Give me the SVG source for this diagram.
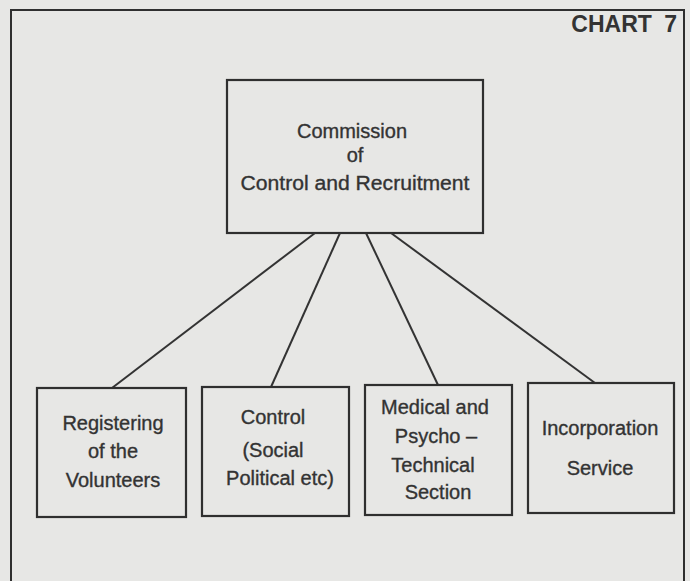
<svg xmlns="http://www.w3.org/2000/svg" width="690" height="581" viewBox="0 0 690 581">
<style>
.box{fill:none;stroke:#2f2f2f;stroke-width:2.2}
.t{font-family:"Liberation Sans",Arial,sans-serif;font-size:20px;fill:#333;stroke:#333;stroke-width:0.35;text-anchor:middle}
.c{stroke:#333;stroke-width:2;fill:none}
</style>
<rect x="0" y="0" width="690" height="581" fill="#e7e7e5"/>
<path d="M11,590 V10 H684 V590" fill="none" stroke="#2f2f2f" stroke-width="2"/>
<text x="677" y="32" font-family="Liberation Sans,Arial,sans-serif" font-weight="bold" font-size="23" fill="#333" text-anchor="end" word-spacing="6">CHART 7</text>
<g id="commission">
<rect class="box" x="227" y="80" width="256" height="153"/>
<text class="t" x="352" y="138">Commission</text>
<text class="t" x="355" y="162">of</text>
<text class="t" x="355" y="190" textLength="229" lengthAdjust="spacingAndGlyphs">Control and Recruitment</text>
</g>
<g id="connectors">
<line class="c" x1="315" y1="233" x2="112" y2="388"/>
<line class="c" x1="340" y1="233" x2="271" y2="387"/>
<line class="c" x1="366" y1="233" x2="438" y2="385"/>
<line class="c" x1="391" y1="233" x2="595" y2="383"/>
</g>
<g id="registering">
<rect class="box" x="37" y="388" width="149" height="129"/>
<text class="t" x="113" y="430">Registering</text>
<text class="t" x="113" y="458">of the</text>
<text class="t" x="113" y="487">Volunteers</text>
</g>
<g id="control">
<rect class="box" x="202" y="387" width="147" height="129"/>
<text class="t" x="273" y="424">Control</text>
<text class="t" x="273" y="457">(Social</text>
<text class="t" x="280" y="485">Political etc)</text>
</g>
<g id="medical">
<rect class="box" x="365" y="385" width="147" height="130"/>
<text class="t" x="435" y="414">Medical and</text>
<text class="t" x="436" y="443">Psycho –</text>
<text class="t" x="433" y="472">Technical</text>
<text class="t" x="438" y="499">Section</text>
</g>
<g id="incorporation">
<rect class="box" x="528" y="383" width="146" height="130"/>
<text class="t" x="600" y="435">Incorporation</text>
<text class="t" x="600" y="475">Service</text>
</g>
</svg>
